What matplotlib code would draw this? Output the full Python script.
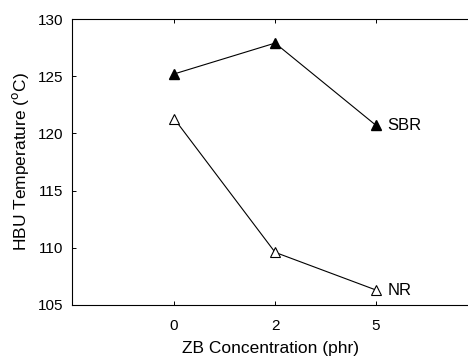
import matplotlib
matplotlib.use("Agg")
from matplotlib import pyplot as plt

conc = ["0", "2", "5"]
sbr = [125.2, 127.9, 120.7]
nr = [121.3, 109.6, 106.3]

plt.rcParams['font.family'] = ['Liberation Sans', 'DejaVu Sans']

fig = plt.figure(figsize=(4.68, 3.6), dpi=100)
ax = fig.add_axes([0.154, 0.153, 0.846, 0.794])

pos = list(range(len(conc)))
ax.plot(pos, sbr, color='black', lw=0.8, marker='^', ms=7.5, mfc='black', mec='black')
ax.plot(pos, nr, color='black', lw=0.8, marker='^', ms=7.5, mfc='white', mec='black', mew=0.8)

ax.text(pos[-1] + 0.11, sbr[-1], "SBR", fontsize=12, va='center', ha='left')
ax.text(pos[-1] + 0.11, nr[-1], "NR", fontsize=12, va='center', ha='left')

ax.set_xlim(-1.01, 2.91)
ax.set_ylim(105, 130)
ax.set_xticks(pos)
ax.set_xticklabels(conc)
ax.set_yticks([105, 110, 115, 120, 125, 130])

ax.spines['right'].set_visible(False)
for s in ['left', 'top', 'bottom']:
    ax.spines[s].set_linewidth(0.8)
ax.tick_params(direction='in', length=3, width=0.7, labelsize=11, top=True)
ax.tick_params(axis='x', pad=10)
ax.tick_params(axis='y', pad=6)

ax.set_xlabel("ZB Concentration (phr)", fontsize=12.5, labelpad=6)
ax.set_ylabel(r"HBU Temperature ($^{\mathrm{o}}$C)", fontsize=12.5, labelpad=5)

plt.savefig("out.png", dpi=100)
